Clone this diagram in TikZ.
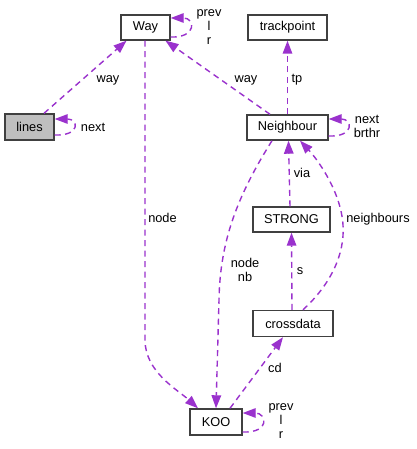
\documentclass[tikz,border=0pt]{standalone}
\usepackage{fontspec}
\setmainfont{Liberation Sans}
\usetikzlibrary{arrows.meta}
\definecolor{edgec}{HTML}{9A32CD}
\definecolor{boxc}{HTML}{404040}
\definecolor{grayfill}{HTML}{BFBFBF}
\begin{document}
\begin{tikzpicture}[x=1pt,y=-1pt,
  every node/.style={font=\fontsize{12.8}{14}\selectfont},
  cls/.style={draw=boxc,line width=1.4pt,fill=white,inner sep=0pt,minimum height=25pt,anchor=center},
  edge/.style={draw=edgec,line width=1.4pt,dash pattern=on 6pt off 4.5pt,
    -{Triangle[length=13pt,width=9.5pt,fill=edgec]}},
  lbl/.style={inner sep=0pt,align=center,font=\fontsize{12.8}{14}\selectfont}]
\useasboundingbox (0,0) rectangle (416,449);
\fill[white] (0,0) rectangle (416,449);
% classes
\node[cls,minimum width=49pt] (way) at (145.5,27.5) {Way};
\node[cls,minimum width=49pt,fill=grayfill,minimum height=26pt] (lines) at (29.5,127) {lines};
\node[cls,minimum width=79pt] (tp) at (287.5,27.5) {trackpoint};
\node[cls,minimum width=81pt] (nb) at (287.5,127.5) {Neighbour};
\node[cls,minimum width=77pt] (strong) at (291.5,219.5) {STRONG};
\node[cls,minimum width=80pt,minimum height=26pt] (cross) at (293,323.5) {crossdata};
\node[cls,minimum width=52pt,minimum height=26pt] (koo) at (216,422) {KOO};
% edges
\draw[edge] ([xshift=14.5pt]lines.north) -- ([xshift=-19pt]way.south);
\draw[edge] ([yshift=-8pt]lines.east) .. controls +(26,1) and +(24,0) .. ([yshift=8pt]lines.east);
\draw[edge] ([yshift=-9.5pt]way.east) .. controls +(26,1) and +(25,0) .. ([yshift=9.5pt]way.east);
\draw[edge] ([xshift=-0.5pt]way.south) -- (145,340) .. controls (145,372) and (178,390) .. ([xshift=-18pt]koo.north);
\draw[edge] ([xshift=-17.5pt]nb.north) -- ([xshift=20pt]way.south);
\draw[edge] (nb.north) -- (tp.south);
\draw[edge] ([yshift=-8.5pt]nb.east) .. controls +(26,1) and +(24,0) .. ([yshift=8.5pt]nb.east);
\draw[edge] ([xshift=-15.5pt]nb.south) .. controls (238,195) and (220,240) .. (219,300) -- (koo.north);
\draw[edge] ([xshift=-1.5pt]strong.north) -- ([xshift=1pt]nb.south);
\draw[edge] ([xshift=-1pt]cross.north) -- (strong.south);
\draw[edge] ([xshift=10pt]cross.north) .. controls (330,285) and (345,255) .. (343,225) .. controls (341,192) and (318,160) .. ([xshift=12.5pt]nb.south);
\draw[edge] ([xshift=14pt]koo.north) -- ([xshift=-10pt]cross.south);
\draw[edge] ([yshift=-10pt]koo.east) .. controls +(28,1) and +(24,0) .. ([yshift=9pt]koo.east);
% labels
\node[lbl] (l1) at (108,80) {way};
\node[lbl] (l2) at (93,127) {next};
\node[lbl] (l3) at (209,27) {prev\\l\\r};
\node[lbl] (l4) at (162.5,218) {node};
\node[lbl] (l5) at (246,80) {way};
\node[lbl] (l6) at (297,80) {tp};
\node[lbl] (l7) at (367,126) {next\\brthr};
\node[lbl] (l8) at (302,173) {via};
\node[lbl] (l9) at (378,219) {neighbours};
\node[lbl] (l10) at (245,270) {node\\nb};
\node[lbl] (l11) at (300,271) {s};
\node[lbl] (l12) at (275,368) {cd};
\node[lbl] (l13) at (281,421) {prev\\l\\r};
\end{tikzpicture}
\end{document}
